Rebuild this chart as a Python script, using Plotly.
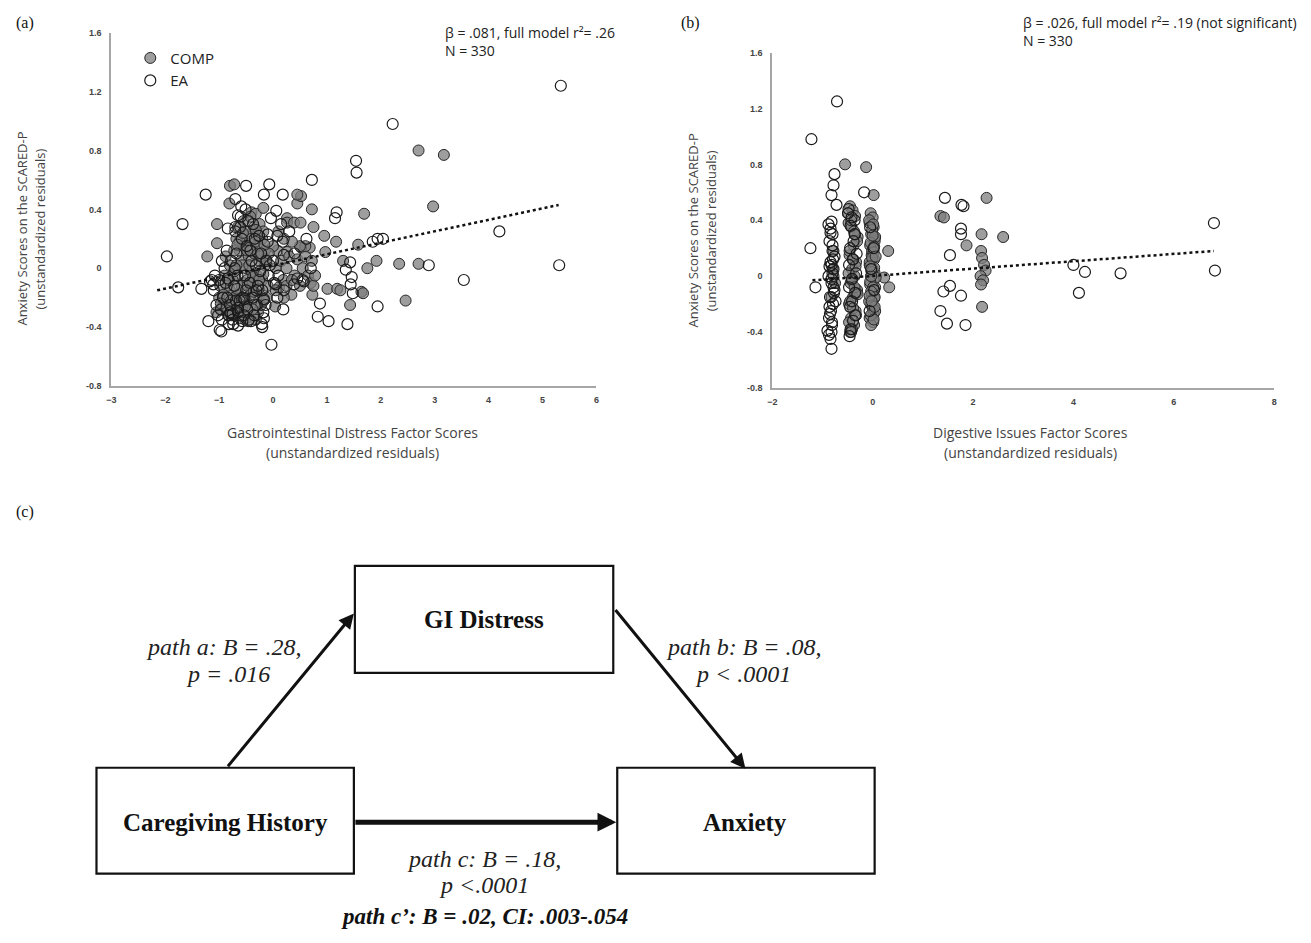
import plotly.graph_objects as go

W, H = 1311, 943
OFF = 8                      # default body margin of the html page
FW, FH = W - 2 * OFF, H - 2 * OFF

# ---------------- DATA ----------------
# Panel (a): Gastrointestinal Distress Factor Scores vs Anxiety residuals
a_comp_x = [2.70, 3.17, 2.97, 1.69, 0.72, -0.80, -0.72, -0.81, -0.40, -0.32, -0.18, 0.45, 0.52, 0.45,
            0.26, 0.26, 0.39, 0.51, 0.75, -1.04, -1.04, -1.22, 0.95, 1.17, 1.58, 0.97, 0.68, 0.52,
            0.08, 0.26, 1.30, 1.92, 1.75, 2.34, 2.70, 2.46, 1.01, 1.19, 1.25, 1.64, 1.67, 0.73,
            1.43, 0.34, 0.20, 0.04, 0.11, 0.19,
            -0.95, -0.90, -0.85, -0.80, -0.75, -0.70, -0.65, -0.60, -0.55, -0.50, -0.45, -0.40, -0.35,
            -0.30, -0.25, -0.20, -0.15, -0.10, -0.90, -0.80, -0.70, -0.60, -0.50, -0.45, -0.40, -0.35,
            -0.30, -0.25, -0.20, -0.15, -0.55, -0.50, -0.45, -0.40, -0.35, -0.30, -0.62, -0.68, -0.58,
            -0.48, -0.38, -0.28, -0.22, -0.75, -0.85, -1.00, -1.05, -0.98, -0.65, -0.55, -0.25, -0.18,
            -0.42, -0.52, -0.62, -0.72, -0.32, -0.12,
            0.05, 0.15, 0.25, 0.30, 0.40, 0.45, 0.55, 0.60, 0.65, 0.70, 0.75, 0.60, 0.50, 0.35, 0.20,
            0.10, 0.00, 0.05, 0.25, 0.35, 0.50, 0.72, 0.78,
            -0.92, -0.87, -0.82, -0.77, -0.72, -0.67, -0.63, -0.57, -0.53, -0.47, -0.43, -0.37, -0.33,
            -0.27, -0.23, -0.17, -0.13, -0.08, -0.97, -0.88, -0.78, -0.68, -0.58, -0.48, -0.38, -0.28,
            -0.18, -0.62, -0.52, -0.42, -0.32, -0.72, -0.82, -0.44, -0.36, -0.56, -0.66, -0.26, -0.16,
            -0.46]
a_comp_y = [0.80, 0.77, 0.42, 0.37, 0.40, 0.56, 0.57, 0.44, 0.38, 0.37, 0.41, 0.44, 0.49, 0.50,
            0.34, 0.31, 0.31, 0.31, 0.28, 0.30, 0.17, 0.08, 0.22, 0.18, 0.16, 0.11, 0.14, 0.14,
            0.12, 0.11, 0.05, 0.05, 0.00, 0.03, 0.03, -0.22, -0.14, -0.14, -0.15, -0.16, -0.17, -0.18,
            -0.25, -0.18, -0.20, -0.26, -0.13, -0.08,
            -0.28, -0.22, -0.30, -0.15, -0.25, -0.32, -0.18, -0.28, -0.10, -0.22, -0.30, -0.15, -0.25,
            -0.05, -0.18, -0.08, 0.02, -0.12, -0.05, 0.02, -0.05, 0.05, 0.00, 0.08, -0.02, 0.10,
            0.15, 0.05, 0.20, 0.12, 0.15, 0.22, 0.25, 0.20, 0.28, 0.22, 0.12, 0.20, -0.12,
            -0.08, -0.10, -0.30, -0.25, -0.08, -0.12, -0.20, -0.30, -0.12, 0.28, 0.32, 0.30, 0.25,
            0.35, -0.35, -0.34, -0.20, -0.35, -0.20,
            0.00, 0.05, 0.00, 0.08, -0.05, 0.06, 0.00, 0.08, -0.05, -0.10, -0.12, 0.15, 0.15, 0.18, 0.20,
            0.25, 0.15, -0.15, -0.12, -0.08, -0.12, 0.05, -0.05,
            -0.18, -0.26, -0.08, -0.32, -0.02, -0.14, -0.24, 0.02, -0.30, -0.12, 0.14, -0.06, 0.18,
            -0.14, 0.08, -0.22, 0.06, 0.10, -0.24, 0.08, -0.22, 0.02, -0.20, 0.12, -0.28, 0.10,
            -0.04, 0.18, -0.26, -0.18, 0.26, 0.12, -0.32, 0.02, -0.16, 0.24, 0.16, -0.08, 0.16,
            -0.36]

a_ea_x = [5.34, 2.22, 1.54, 1.55, 0.72, -0.07, -0.50, -1.25, -0.17, 0.18, 0.06, 1.18, 1.15, -1.68,
          -0.84, -0.70, 4.20, 1.85, 1.94, 2.04, -1.97, 2.89, 5.31, 1.43, 1.35, 3.54, -1.76, -1.33,
          -1.17, 1.46, 1.44, 1.48, 0.87, 1.94, 0.19, 0.83, 1.03, 1.38, -1.20, -0.99, -0.96, -0.65,
          -0.41, -0.20, -0.17, -0.03, -0.04, 0.18, 0.20, -0.70, -0.59, -0.65, -0.84, -1.14, -1.11,
          -0.53, -0.65, -0.75, -0.10, -0.17, 0.05, 0.08, 0.45, 0.39, 0.57,
          -1.05, -0.95, -0.88, -0.82, -0.78, -0.72, -0.68, -0.62, -0.58, -0.52, -0.48, -0.42, -0.38,
          -0.32, -0.28, -0.22, -0.18, -0.12, -0.08, -0.90, -1.00, -0.80, -0.70, -0.60, -0.50, -0.40,
          -0.30, -0.20, -0.10, -0.65, -0.55, -0.45, -0.35, -0.75, -0.85, -0.95, -1.10, 0.10, 0.20,
          0.30, 0.40, 0.55, 0.62, 0.70, 0.15, 0.00, 0.02, 0.08,
          -1.08, -1.02, -0.93, -0.86, -0.79, -0.74, -0.66, -0.61, -0.54, -0.49, -0.43, -0.37, -0.31,
          -0.26, -0.21, -0.14, -0.06, -0.97, -0.83, -0.71, -0.57, -0.46, -0.34, -0.24, -0.69, -0.51]
a_ea_y = [1.24, 0.98, 0.73, 0.65, 0.60, 0.57, 0.56, 0.50, 0.50, 0.50, 0.39, 0.38, 0.34, 0.30,
          0.27, 0.28, 0.25, 0.18, 0.20, 0.20, 0.08, 0.02, 0.02, 0.04, -0.01, -0.08, -0.13, -0.14,
          -0.09, -0.06, -0.11, -0.17, -0.24, -0.26, -0.28, -0.33, -0.36, -0.38, -0.36, -0.42, -0.43, -0.39,
          -0.36, -0.40, -0.34, -0.52, 0.34, 0.18, 0.09, 0.47, 0.42, 0.36, -0.07, -0.08, -0.11,
          -0.21, -0.27, -0.31, 0.23, -0.21, -0.11, -0.20, -0.07, -0.11, -0.09,
          -0.25, -0.35, -0.10, -0.38, 0.05, -0.12, 0.10, -0.22, 0.20, -0.05, -0.28, 0.12, -0.20,
          0.02, -0.12, 0.10, -0.30, 0.05, -0.05, 0.00, -0.08, -0.25, 0.25, 0.35, -0.15, 0.05,
          -0.25, -0.15, 0.18, -0.30, -0.20, -0.35, -0.32, -0.35, -0.20, 0.05, -0.15, -0.05, -0.15,
          0.25, 0.10, -0.08, 0.20, 0.00, 0.30, 0.05, -0.10, 0.22,
          -0.05, -0.32, -0.20, 0.12, -0.30, -0.38, -0.05, 0.28, -0.32, 0.15, -0.10, 0.30, -0.15,
          0.22, -0.38, -0.25, 0.02, -0.28, -0.32, 0.00, -0.36, 0.32, 0.20, -0.02, -0.22, 0.40]

a_trend_x = [-2.15, 5.30]
a_trend_y = [-0.15, 0.43]

# Panel (b): Digestive Issues Factor Scores vs Anxiety residuals
b_comp_x = [-0.55, -0.13, 0.02, 0.31, 0.33, 0.23, 2.27, 1.35, 1.42, 2.17, 2.60, 1.87, 2.16, 2.18,
            2.22, 2.25, 2.15, 2.20, 2.16, 2.18,
            -0.04, 0.00, -0.06, 0.02, -0.03, 0.04, -0.05, 0.01, -0.02, 0.03, -0.06, 0.00, 0.04, -0.03,
            0.02, -0.05, 0.01, -0.02, 0.03, -0.04, 0.00, 0.02, -0.06, 0.01, -0.03, 0.04, -0.01, 0.05,
            -0.45, -0.40, -0.35, -0.48, -0.42, -0.30, -0.38, -0.46, -0.33, -0.41, -0.36, -0.44, -0.31,
            -0.39, -0.47, -0.34, -0.43, -0.37, -0.45, -0.32,
            -0.78, -0.80, -0.75, -0.82, -0.78,
            -0.07, -0.01, 0.05, -0.04, 0.02, -0.06, 0.03, -0.02, 0.06, -0.05, 0.01, -0.03, 0.04, -0.07,
            0.00, 0.05, -0.04, 0.02, -0.01, 0.03, -0.06, 0.01, 0.04, -0.03, 0.06, -0.02, 0.00, -0.05,
            -0.49, -0.43, -0.37, -0.31, -0.46, -0.40, -0.34, -0.48, -0.42, -0.36, -0.30, -0.45, -0.39,
            -0.33, -0.47, -0.41, -0.35]
b_comp_y = [0.80, 0.78, 0.58, 0.18, -0.08, -0.01, 0.56, 0.43, 0.42, 0.30, 0.28, 0.22, 0.18, 0.13,
            0.08, 0.04, 0.00, -0.03, -0.06, -0.22,
            0.45, 0.42, 0.38, 0.35, 0.30, 0.27, 0.22, 0.20, 0.15, 0.12, 0.08, 0.05, 0.02, 0.00,
            -0.03, -0.06, -0.10, -0.13, -0.16, -0.20, -0.23, -0.27, -0.30, -0.33, -0.35, 0.25, 0.18, -0.08,
            0.50, 0.47, 0.43, 0.38, 0.35, 0.28, 0.22, 0.15, 0.10, 0.05, 0.00, -0.05, -0.10,
            -0.15, -0.20, -0.25, -0.30, -0.35, -0.40, -0.12,
            0.18, 0.05, -0.05, -0.15, 0.00,
            0.40, 0.33, 0.28, 0.24, 0.17, 0.10, 0.06, 0.03, -0.01, -0.04, -0.08, -0.11, -0.15, -0.18,
            -0.21, -0.25, -0.28, -0.31, 0.13, 0.21, -0.14, 0.37, -0.22, 0.00, 0.14, -0.18, 0.29, 0.07,
            0.45, 0.40, 0.32, 0.25, 0.18, 0.12, 0.07, 0.02, -0.03, -0.08, -0.13, -0.18, -0.23,
            -0.28, -0.33, -0.38, 0.30]

b_ea_x = [-0.71, -1.22, -0.76, -0.78, -0.82, -0.72, -0.17, -1.24, -1.14, -0.82, -0.84, -0.80,
          -0.90, -0.82, -0.82, 1.44, 1.77, 1.81, 1.76, 1.76, 1.54, 1.54, 1.41, 1.76, 1.35, 1.48,
          1.85, 4.00, 4.23, 4.94, 4.11, 6.80, 6.82,
          -0.86, -0.80, -0.84, -0.78, -0.88, -0.82, -0.76, -0.85, -0.79, -0.83, -0.87, -0.81,
          -0.77, -0.84, -0.80, -0.86, -0.82,
          -0.48, -0.42, -0.36, -0.45, -0.39, -0.33, -0.47, -0.41, -0.35, -0.44, -0.46,
          -0.05, 0.02, -0.03, 0.03, -0.06,
          -0.88, -0.84, -0.80, -0.76, -0.86, -0.82, -0.78, -0.74, -0.85, -0.81, -0.87, -0.79,
          -0.49, -0.44, -0.38, -0.32, -0.47, -0.41, -0.35, -0.45, -0.39, -0.43, -0.36]
b_ea_y = [1.25, 0.98, 0.73, 0.65, 0.58, 0.51, 0.60, 0.20, -0.08, 0.39, 0.34, 0.30,
          -0.39, -0.40, -0.52, 0.56, 0.51, 0.50, 0.34, 0.30, 0.15, -0.07, -0.11, -0.14, -0.25, -0.34,
          -0.35, 0.08, 0.03, 0.02, -0.12, 0.38, 0.04,
          0.25, 0.18, 0.10, 0.05, 0.00, -0.05, -0.10, -0.15, -0.20, -0.25, -0.30, -0.35,
          -0.12, -0.45, 0.02, -0.22, 0.08,
          0.48, 0.42, 0.30, 0.20, 0.12, 0.02, -0.08, -0.18, -0.28, -0.38, -0.43,
          0.35, 0.20, 0.05, -0.10, -0.25,
          0.37, 0.31, 0.22, 0.14, 0.07, -0.02, -0.08, -0.18, -0.27, -0.33, -0.42, 0.12,
          0.45, 0.36, 0.25, 0.16, 0.08, -0.02, -0.12, -0.22, -0.32, -0.40, 0.40]

b_trend_x = [-1.20, 6.80]
b_trend_y = [-0.03, 0.18]

y_tickvals = [-0.8, -0.4, 0, 0.4, 0.8, 1.2, 1.6]
y_ticktext = ["-0.8", "-0.4", "0", "0.4", "0.8", "1.2", "1.6"]
a_xtickvals = [-3, -2, -1, 0, 1, 2, 3, 4, 5, 6]
b_xtickvals = [-2, 0, 2, 4, 6, 8]

series_names = ["COMP", "EA"]

# ---------------- STYLE ----------------
COMP_MARKER = dict(size=11, color="rgba(125,125,125,0.75)", line=dict(color="#262626", width=1))
EA_MARKER = dict(size=11, color="rgba(255,255,255,0)", line=dict(color="#1a1a1a", width=1.2))


def px(x):
    return (x - OFF) / FW


def py(y):
    return 1 - (y - OFF) / FH


fig = go.Figure()

# panel (a)
fig.add_trace(go.Scatter(x=a_comp_x, y=a_comp_y, mode="markers", name=series_names[0],
                         marker=COMP_MARKER, xaxis="x", yaxis="y", legendgroup="c"))
fig.add_trace(go.Scatter(x=a_ea_x, y=a_ea_y, mode="markers", name=series_names[1],
                         marker=EA_MARKER, xaxis="x", yaxis="y", legendgroup="e"))
fig.add_trace(go.Scatter(x=a_trend_x, y=a_trend_y, mode="lines", showlegend=False,
                         line=dict(color="#111", width=2.5, dash="dot"), xaxis="x", yaxis="y"))
# panel (b)
fig.add_trace(go.Scatter(x=b_comp_x, y=b_comp_y, mode="markers", name=series_names[0],
                         marker=COMP_MARKER, xaxis="x2", yaxis="y2", showlegend=False, legendgroup="c"))
fig.add_trace(go.Scatter(x=b_ea_x, y=b_ea_y, mode="markers", name=series_names[1],
                         marker=EA_MARKER, xaxis="x2", yaxis="y2", showlegend=False, legendgroup="e"))
fig.add_trace(go.Scatter(x=b_trend_x, y=b_trend_y, mode="lines", showlegend=False,
                         line=dict(color="#111", width=2.5, dash="dot"), xaxis="x2", yaxis="y2"))

tickfont = dict(family="Liberation Sans", size=9, color="#444", weight="bold")
axline = dict(showline=True, linecolor="#a6a6a6", linewidth=2, showgrid=False, zeroline=False,
              ticks="", tickfont=tickfont)

fig.update_layout(
    width=FW, height=FH, autosize=False,
    margin=dict(l=0, r=0, t=0, b=0),
    paper_bgcolor="white", plot_bgcolor="rgba(0,0,0,0)",
    xaxis=dict(domain=[px(107), px(595)], range=[-3, 6], tickvals=a_xtickvals,
               ticklabelstandoff=4, anchor="y", **axline),
    yaxis=dict(domain=[py(385), py(28)], range=[-0.8, 1.6], tickvals=y_tickvals, ticktext=y_ticktext,
               ticklabelstandoff=6, anchor="x", **axline),
    xaxis2=dict(domain=[px(772), px(1277)], range=[-2, 8], tickvals=b_xtickvals,
                ticklabelstandoff=4, anchor="y2", **axline),
    yaxis2=dict(domain=[py(387), py(48)], range=[-0.8, 1.6], tickvals=y_tickvals, ticktext=y_ticktext,
                ticklabelstandoff=6, anchor="x2", **axline),
    xaxis3=dict(domain=[0, 1], range=[OFF, OFF + FW], visible=False, anchor="y3", fixedrange=True),
    yaxis3=dict(domain=[0, 1], range=[OFF + FH, OFF], visible=False, anchor="x3", fixedrange=True),
    legend=dict(x=px(126), y=py(37), xanchor="left", yanchor="top", bgcolor="rgba(0,0,0,0)",
                font=dict(family="Open Sans", size=15, color="#222"), tracegroupgap=0,
                itemwidth=30),
    showlegend=True,
)

ann = []


def text(x, y, t, size=12, family="Open Sans", color="#333", xanchor="center", yanchor="middle",
         angle=0, align="center"):
    ann.append(dict(x=x, y=y, xref="x3", yref="y3", text=t, showarrow=False, textangle=angle,
                    font=dict(family=family, size=size, color=color), xanchor=xanchor,
                    yanchor=yanchor, align=align))


# panel labels
text(8.5, 18, "(a)", size=16, family="Liberation Serif", color="#111", xanchor="left")
text(678, 18, "(b)", size=16, family="Liberation Serif", color="#111", xanchor="left")
text(8.5, 512, "(c)", size=16, family="Liberation Serif", color="#111", xanchor="left")

# stats annotations
text(441, 37, "β = .081, full model r²= .26<br>N = 330", size=14, color="#222",
     xanchor="left", align="left")
text(1302, 27, "β = .026, full model r²= .19 (not significant)<br>N = 330", size=14, color="#222",
     xanchor="right", align="left")

# axis titles
text(350, 432, "Gastrointestinal Distress Factor Scores", size=14, color="#444")
text(350, 452, "(unstandardized residuals)", size=14, color="#444")
text(1032, 432, "Digestive Issues Factor Scores", size=14, color="#444")
text(1032, 452, "(unstandardized residuals)", size=14, color="#444")
text(17, 226, "Anxiety Scores on the SCARED-P", size=13, color="#444", angle=-90)
text(35, 226, "(unstandardized residuals)", size=13, color="#444", angle=-90)
text(692, 228, "Anxiety Scores on the SCARED-P", size=13, color="#444", angle=-90)
text(710, 228, "(unstandardized residuals)", size=13, color="#444", angle=-90)

# ---------------- PANEL (c) DIAGRAM ----------------
boxes = [(352, 567, 612, 675), (92, 771, 351, 878), (616, 771, 875, 878)]
shapes = []
for (x0, y0, x1, y1) in boxes:
    shapes.append(dict(type="rect", xref="x3", yref="y3", x0=x0, y0=y0, x1=x1, y1=y1,
                       line=dict(color="#111", width=2.2), fillcolor="rgba(0,0,0,0)"))

serif = "Liberation Serif"
text(482, 621, "<b>GI Distress</b>", size=25, family=serif, color="#111")
text(222, 826, "<b>Caregiving History</b>", size=25, family=serif, color="#111")
text(745, 826, "<b>Anxiety</b>", size=25, family=serif, color="#111")

text(220, 649, "<i>path a: B = .28,</i>", size=24, family=serif, color="#222")
text(224, 676, "<i>p = .016</i>", size=24, family=serif, color="#222")
text(744, 649, "<i>path b: B = .08,</i>", size=24, family=serif, color="#222")
text(743, 676, "<i>p < .0001</i>", size=24, family=serif, color="#222")
text(482, 863, "<i>path c: B = .18,</i>", size=24, family=serif, color="#222")
text(482, 889, "<i>p <.0001</i>", size=24, family=serif, color="#222")
text(482, 921, "<b><i>path c’: B = .02, CI: .003-.054</i></b>", size=23, family=serif, color="#111")

arrows = [((223, 771), (351, 615), 3, 1.0), ((613, 610), (745, 772), 3, 1.0),
          ((351, 826), (615, 826), 5, 0.75)]
for (tail, head, w, s) in arrows:
    ann.append(dict(x=head[0], y=head[1], ax=tail[0], ay=tail[1], xref="x3", yref="y3",
                    axref="x3", ayref="y3", text="", showarrow=True, arrowhead=2, arrowsize=s,
                    arrowwidth=w, arrowcolor="#111", standoff=0, startstandoff=0))

fig.update_layout(annotations=ann, shapes=shapes)

fig.write_html("out.html")
